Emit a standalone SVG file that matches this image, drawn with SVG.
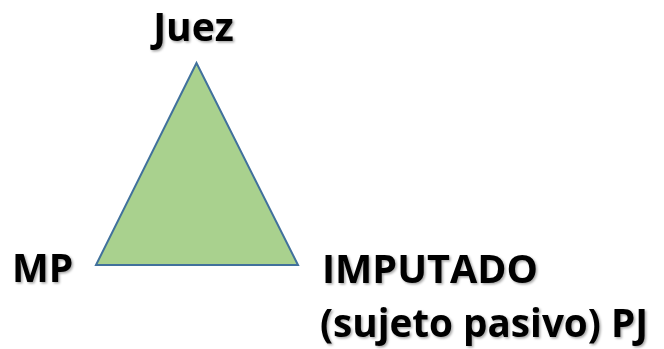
<svg xmlns="http://www.w3.org/2000/svg" width="664" height="349" viewBox="0 0 664 349">
<defs>
<filter id="sh" x="-10%" y="-10%" width="120%" height="130%">
<feDropShadow dx="1.5" dy="1.5" stdDeviation="1" flood-color="#000" flood-opacity="0.35"/>
</filter>
<style>
.lbl{font-family:"Open Sans","Noto Sans","Liberation Sans",sans-serif;font-weight:bold;font-size:39px;fill:#000;filter:url(#sh)}
.tri{fill:#A9D18E;stroke:#41719C;stroke-width:2;stroke-linejoin:miter}
</style>
</defs>
<rect width="664" height="349" fill="#fff"/>
<g id="triangle">
<polygon class="tri" points="196.5,63 96,265 298,265"/>
</g>
<g id="connectors"></g>
<g id="juez"><text class="lbl" x="193.5" y="41" text-anchor="middle">Juez</text></g>
<g id="mp"><text class="lbl" x="12" y="282">MP</text></g>
<g id="imputado">
<text class="lbl" x="322" y="282.5" textLength="216" lengthAdjust="spacingAndGlyphs">IMPUTADO</text>
<text class="lbl" x="320" y="337" textLength="328" lengthAdjust="spacingAndGlyphs">(sujeto pasivo) PJ</text>
</g>
</svg>
